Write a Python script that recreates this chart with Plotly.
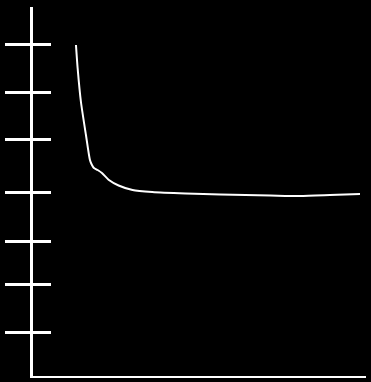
import plotly.graph_objects as go

# Data (arbitrary units)
x_vals = [12.9, 13.4, 14.4, 15.9, 17.1, 17.7, 18.3, 19.4, 20.7, 22.8, 25.7, 29.9,
          35.8, 45.8, 56.3, 71.3, 80.2, 89.2, 93.7, 98.2]
y_vals = [6.62, 6.16, 5.48, 4.82, 4.32, 4.22, 4.16, 4.12, 4.06, 3.92, 3.81, 3.72,
          3.68, 3.65, 3.63, 3.61, 3.60, 3.62, 3.63, 3.64]
y_ticks = [0.88, 1.84, 2.70, 3.68, 4.74, 5.68, 6.64]

X_RANGE = [0, 100]
Y_RANGE = [0, 7.38]

fig = go.Figure()
fig.add_trace(go.Scatter(x=x_vals, y=y_vals, mode="lines",
                         line=dict(color="white", width=2, shape="spline", smoothing=0.6),
                         hoverinfo="skip", showlegend=False))
fig.add_trace(go.Scatter(x=[None], y=[None], yaxis="y2", showlegend=False, hoverinfo="skip"))

fig.update_layout(
    width=371, height=382,
    margin=dict(l=33, r=5, t=7, b=6),
    paper_bgcolor="black", plot_bgcolor="black",
    xaxis=dict(range=X_RANGE, showline=True, linecolor="white", linewidth=2,
               showgrid=False, zeroline=False, showticklabels=False, ticks=""),
    yaxis=dict(range=Y_RANGE, showline=True, linecolor="white", linewidth=3,
               showgrid=False, zeroline=False, showticklabels=False,
               tickmode="array", tickvals=y_ticks, ticks="outside",
               ticklen=25, tickwidth=2.5, tickcolor="white"),
    yaxis2=dict(range=Y_RANGE, overlaying="y", side="left", showline=False,
                showgrid=False, zeroline=False, showticklabels=False,
                tickmode="array", tickvals=y_ticks, ticks="inside",
                ticklen=18, tickwidth=2.5, tickcolor="white"),
)

fig.write_html("out.html", config={"displayModeBar": False},
               post_script="document.body.style.margin='0';document.body.style.background='black';")
